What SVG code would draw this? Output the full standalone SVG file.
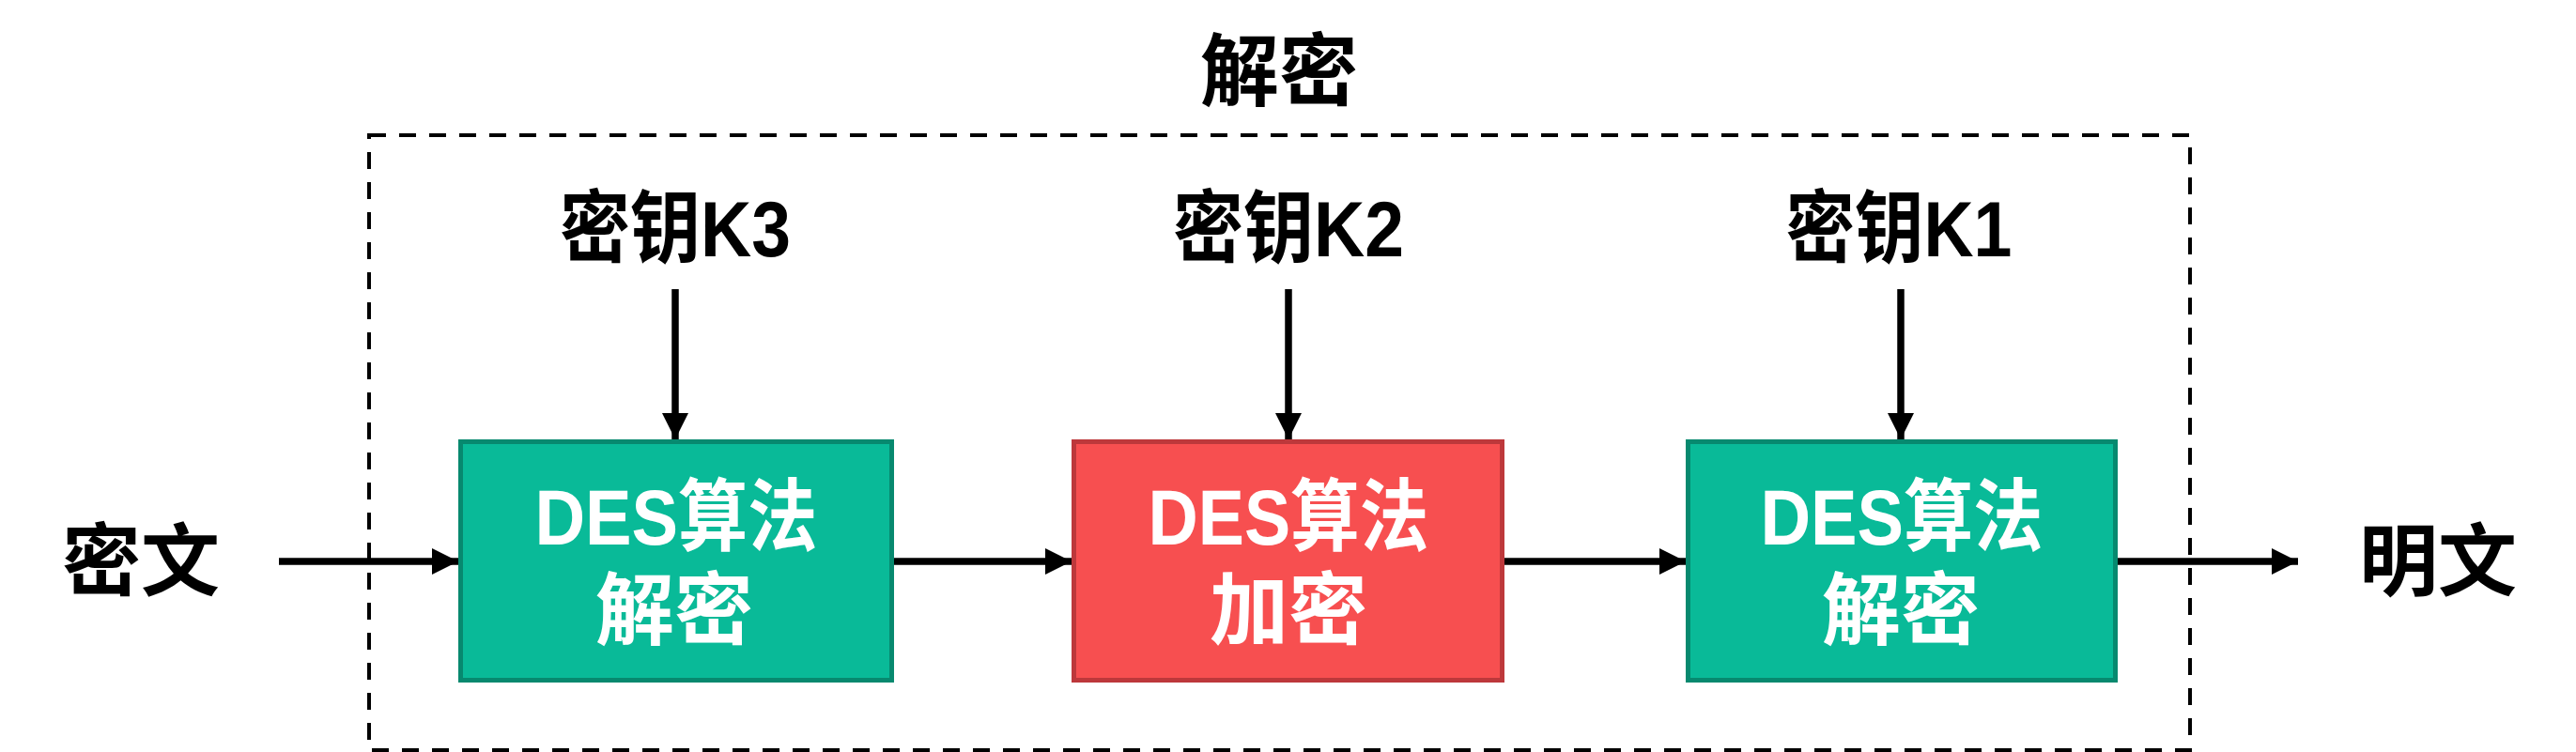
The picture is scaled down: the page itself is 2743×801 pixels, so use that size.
<svg xmlns="http://www.w3.org/2000/svg" width="2743" height="801" viewBox="0 0 2743 801">
<style>
.t{font-family:"Liberation Sans","Noto Sans CJK SC",sans-serif;font-weight:bold;font-size:84px;text-anchor:middle}
.k{fill:#000}
.w{fill:#fff}
.g{fill:#09BA98;stroke:#07896F;stroke-width:5}
.r{fill:#F74F50;stroke:#BD383B;stroke-width:5}
.c{stroke:#000;stroke-width:7.5;fill:none}
</style>
<defs>
<marker id="ah" markerUnits="userSpaceOnUse" markerWidth="30" markerHeight="30" refX="28" refY="14" orient="auto" viewBox="0 0 30 30">
<polygon points="0,0 28,14 0,28" fill="#000"/>
</marker>
</defs>
<g id="container">
<rect x="393" y="144" width="1939" height="655" fill="none" stroke="#000" stroke-width="4" stroke-dasharray="18 14"/>
<text class="t k" x="1362" y="106">解密</text>
</g>
<g id="connectors">
<line class="c" x1="297" y1="598" x2="488" y2="598" marker-end="url(#ah)"/>
<line class="c" x1="952" y1="598" x2="1141" y2="598" marker-end="url(#ah)"/>
<line class="c" x1="1602" y1="598" x2="1795" y2="598" marker-end="url(#ah)"/>
<line class="c" x1="2255" y1="598" x2="2447" y2="598" marker-end="url(#ah)"/>
<line class="c" x1="719" y1="308" x2="719" y2="468" marker-end="url(#ah)"/>
<line class="c" x1="1372" y1="308" x2="1372" y2="468" marker-end="url(#ah)"/>
<line class="c" x1="2024" y1="308" x2="2024" y2="468" marker-end="url(#ah)"/>
</g>
<g id="input"><text class="t k" x="150" y="628">密文</text></g>
<g id="output"><text class="t k" x="2596" y="628">明文</text></g>
<g id="key3"><text class="t k" x="719" y="273" textLength="246" lengthAdjust="spacingAndGlyphs">密钥K3</text></g>
<g id="key2"><text class="t k" x="1372" y="273" textLength="246" lengthAdjust="spacingAndGlyphs">密钥K2</text></g>
<g id="key1"><text class="t k" x="2022" y="273" textLength="241" lengthAdjust="spacingAndGlyphs">密钥K1</text></g>
<g id="box1">
<rect class="g" x="490.5" y="470.5" width="459" height="254"/>
<text class="t w" x="720" y="580" textLength="301" lengthAdjust="spacingAndGlyphs">DES算法</text>
<text class="t w" x="718" y="680">解密</text>
</g>
<g id="box2">
<rect class="r" x="1143.5" y="470.5" width="456" height="254"/>
<text class="t w" x="1372" y="580" textLength="299" lengthAdjust="spacingAndGlyphs">DES算法</text>
<text class="t w" x="1372" y="680">加密</text>
</g>
<g id="box3">
<rect class="g" x="1797.5" y="470.5" width="455" height="254"/>
<text class="t w" x="2025" y="580" textLength="301" lengthAdjust="spacingAndGlyphs">DES算法</text>
<text class="t w" x="2024" y="680">解密</text>
</g>
</svg>
